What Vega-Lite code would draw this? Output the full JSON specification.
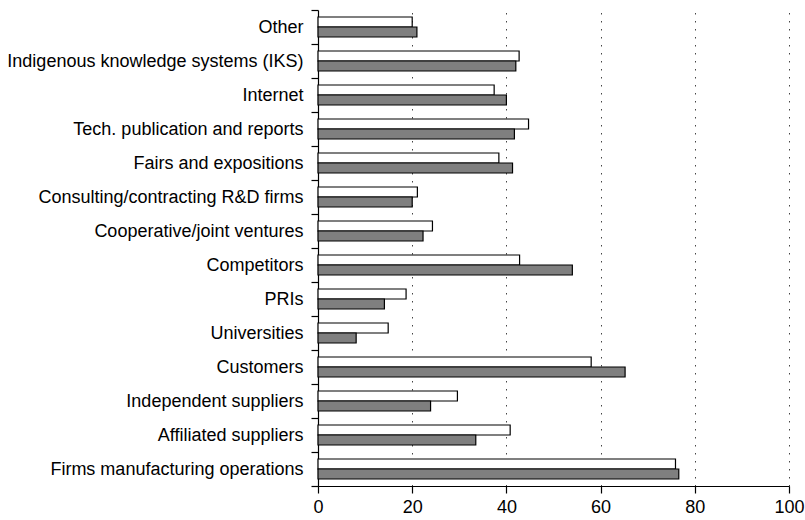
{
  "$schema": "https://vega.github.io/schema/vega-lite/v6.json",
  "width": 471,
  "height": 476,
  "autosize": {"type": "none"},
  "padding": {"left": 318, "top": 10, "right": 16, "bottom": 34},
  "background": "white",
  "config": {
    "view": {"stroke": null},
    "font": "Liberation Sans",
    "axis": {"labelColor": "black", "domainColor": "black", "tickColor": "black", "labelFont": "Liberation Sans"}
  },
  "data": {
    "values": [
      {"source": "Other", "series": "A", "value": 20.0},
      {"source": "Other", "series": "B", "value": 21.0},
      {"source": "Indigenous knowledge systems (IKS)", "series": "A", "value": 42.7},
      {"source": "Indigenous knowledge systems (IKS)", "series": "B", "value": 42.0},
      {"source": "Internet", "series": "A", "value": 37.4},
      {"source": "Internet", "series": "B", "value": 40.0},
      {"source": "Tech. publication and reports", "series": "A", "value": 44.7},
      {"source": "Tech. publication and reports", "series": "B", "value": 41.7},
      {"source": "Fairs and expositions", "series": "A", "value": 38.4},
      {"source": "Fairs and expositions", "series": "B", "value": 41.3},
      {"source": "Consulting/contracting R&D firms", "series": "A", "value": 21.1},
      {"source": "Consulting/contracting R&D firms", "series": "B", "value": 20.0},
      {"source": "Cooperative/joint ventures", "series": "A", "value": 24.3},
      {"source": "Cooperative/joint ventures", "series": "B", "value": 22.3},
      {"source": "Competitors", "series": "A", "value": 42.8},
      {"source": "Competitors", "series": "B", "value": 54.0},
      {"source": "PRIs", "series": "A", "value": 18.7},
      {"source": "PRIs", "series": "B", "value": 14.1},
      {"source": "Universities", "series": "A", "value": 14.9},
      {"source": "Universities", "series": "B", "value": 8.1},
      {"source": "Customers", "series": "A", "value": 58.0},
      {"source": "Customers", "series": "B", "value": 65.2},
      {"source": "Independent suppliers", "series": "A", "value": 29.6},
      {"source": "Independent suppliers", "series": "B", "value": 23.9},
      {"source": "Affiliated suppliers", "series": "A", "value": 40.8},
      {"source": "Affiliated suppliers", "series": "B", "value": 33.5},
      {"source": "Firms manufacturing operations", "series": "A", "value": 75.9},
      {"source": "Firms manufacturing operations", "series": "B", "value": 76.6}
    ]
  },
  "mark": {"type": "bar", "stroke": "black", "strokeWidth": 1.2},
  "encoding": {
    "y": {
      "field": "source",
      "type": "nominal",
      "sort": null,
      "scale": {"paddingInner": 0, "paddingOuter": 0},
      "axis": {
        "title": null,
        "tickBand": "extent",
        "tickSize": 7,
        "labelPadding": 8,
        "labelFontSize": 18,
        "labelLimit": 400,
        "grid": false,
        "domainWidth": 1.2,
        "tickWidth": 1.2
      }
    },
    "yOffset": {
      "field": "series",
      "type": "nominal",
      "scale": {"paddingInner": 0, "paddingOuter": 0.7}
    },
    "x": {
      "field": "value",
      "type": "quantitative",
      "scale": {"domain": [0, 100], "nice": false},
      "axis": {
        "title": null,
        "values": [0, 20, 40, 60, 80, 100],
        "tickSize": 7,
        "labelPadding": 5,
        "labelFontSize": 18,
        "labelFlush": false,
        "grid": true,
        "gridColor": "#444444",
        "gridDash": [1.5, 6.5],
        "gridWidth": 1,
        "domainWidth": 1.2,
        "tickWidth": 1.2
      }
    },
    "fill": {
      "field": "series",
      "type": "nominal",
      "scale": {"domain": ["A", "B"], "range": ["#ffffff", "#7f7f7f"]},
      "legend": null
    }
  }
}
